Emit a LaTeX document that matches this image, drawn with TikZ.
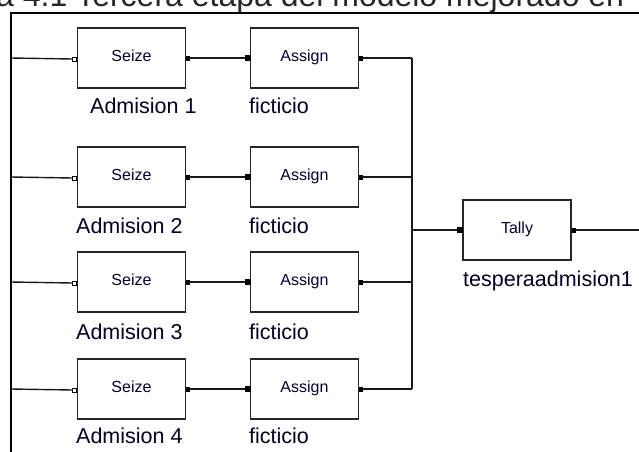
\documentclass[tikz,border=0pt]{standalone}
\usepackage{fontspec}
\setmainfont{Liberation Sans}
\begin{document}
\begin{tikzpicture}[x=1pt,y=-1pt,
  block/.style={draw=black!85, line width=1.4pt, minimum width=108pt, minimum height=60pt,
    inner sep=0pt, font=\fontsize{16}{18}\selectfont, text=black!80!blue,
    text height=0.716em, text depth=0pt},
  caption/.style={font=\fontsize{21.5}{24}\selectfont, text=black!85!blue, inner sep=0pt, anchor=base west},
  wire/.style={line width=1.4pt, draw=black!90},
  frameline/.style={line width=2pt, draw=black},
  inport/.style={draw=black, fill=white, line width=0.8pt, minimum size=4pt, inner sep=0pt, outer sep=0pt},
  fullport/.style={draw=black, fill=black, minimum width=5pt, minimum height=5pt, inner sep=0pt, outer sep=0pt},
  outport/.style={draw=black, fill=black, minimum width=3pt, minimum height=4pt, inner sep=0pt, outer sep=0pt}
]
\useasboundingbox (0,0) rectangle (639,451);
\clip (0,0) rectangle (639,451);

% heading, only its lower part lies inside the page
\node[anchor=base west, inner sep=0pt, font=\fontsize{32}{36}\selectfont, text=black!85] (heading)
  at (-4,6) {a 4.1 Tercera etapa del modelo mejorado en};

% outer frame
\coordinate (fbot) at (11,452);
\coordinate (fcorner) at (11,13);
\coordinate (fright) at (640,13);
\draw[frameline] (fbot) -- (fcorner) -- (fright);

% four admission branches
\foreach \i/\y/\cx/\cy in {1/58/90/113, 2/177/76/233, 3/282/76/339, 4/389/76/443} {
  \node[block] (s\i) at (131.5,\y) {Seize};
  \node[block] (a\i) at (304.5,\y) {Assign};
  \node[caption] (sl\i) at (\cx,\cy) {Admision \i};
  \node[caption] (al\i) at (249,\cy) {ficticio};
  \node[inport, anchor=east] (sin\i) at ([yshift=-1pt]s\i.west) {};
  \node[outport, anchor=west] (sout\i) at (s\i.east) {};
  \node[fullport, anchor=east] (ain\i) at (a\i.west) {};
  \node[outport, anchor=west] (aout\i) at (a\i.east) {};
  \coordinate (fin\i) at (11,\y);
  \coordinate (j\i) at (412,\y);
  \draw[wire] (fin\i) -- (sin\i.west);
  \draw[wire] (sout\i.east) -- (ain\i.west);
  \draw[wire] (aout\i.east) -- (j\i);
}

% collecting bus
\draw[wire] (j1) -- (j4);

% tally block
\node[block] (t) at (517,230) {Tally};
\node[caption] (tl) at (463,286) {tesperaadmision1};
\node[fullport, anchor=east] (tin) at (t.west) {};
\node[outport, anchor=west] (tout) at (t.east) {};
\coordinate (jt) at (412,230);
\coordinate (exit) at (640,230);
\draw[wire] (jt) -- (tin.west);
\draw[wire] (tout.east) -- (exit);
\end{tikzpicture}
\end{document}
